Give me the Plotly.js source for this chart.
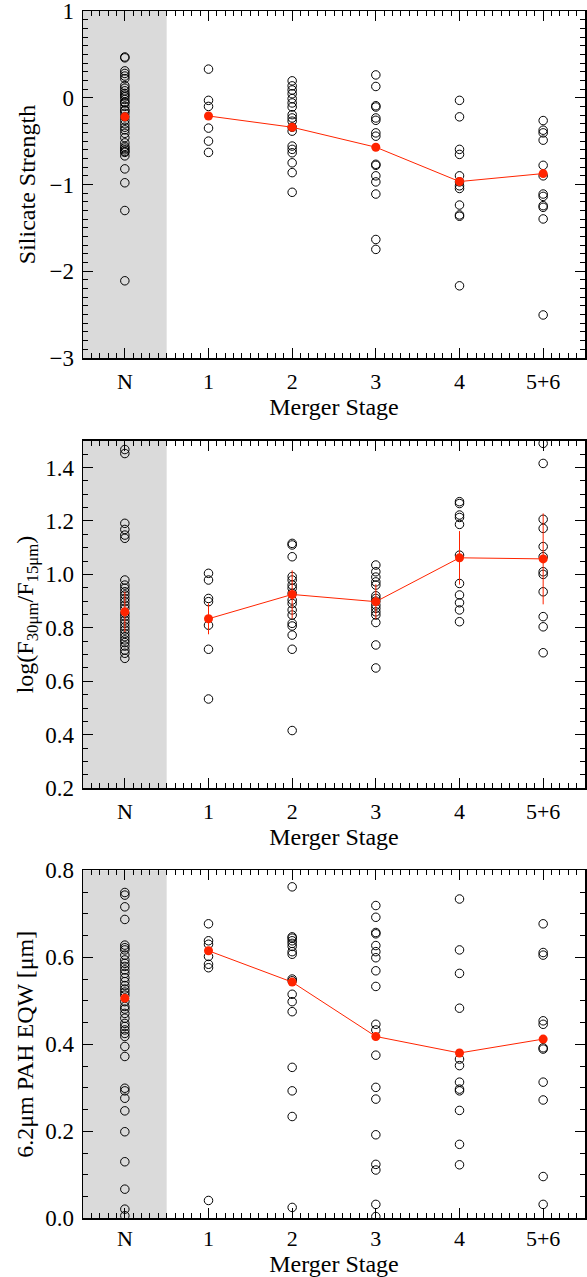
<!DOCTYPE html>
<html>
<head>
<meta charset="utf-8">
<script src="https://cdn.plot.ly/plotly-3.0.1.min.js"></script>
<style>html,body{margin:0;padding:0;background:#fff;}#chart{width:587px;height:1277px;}</style>
</head>
<body>
<div id="chart"></div>
<script>
// ---- categories ----
const stages = ['N', '1', '2', '3', '4', '5+6'];

// ---- Panel 1: Silicate Strength ----
const silN  = [0.47, 0.46, 0.31, 0.28, 0.25, 0.22, 0.14, 0.11, 0.08, 0.05, 0.03, 0.01, -0.02, -0.05, -0.06, -0.10, -0.14, -0.15, -0.18, -0.22, -0.26, -0.30, -0.34, -0.37, -0.41, -0.46, -0.52, -0.56, -0.58, -0.60, -0.62, -0.63, -0.67, -0.82, -0.98, -1.30, -2.11];
const sil1  = [0.33, -0.03, -0.10, -0.35, -0.50, -0.63];
const sil2  = [0.195, 0.137, 0.09, 0.046, -0.01, -0.06, -0.107, -0.195, -0.233, -0.27, -0.34, -0.385, -0.557, -0.595, -0.634, -0.75, -0.863, -1.09];
const sil3  = [0.263, 0.13, -0.092, -0.107, -0.233, -0.26, -0.405, -0.443, -0.767, -0.779, -0.90, -0.97, -1.11, -1.634, -1.748];
const sil4  = [-0.03, -0.22, -0.595, -0.653, -0.90, -0.97, -1.015, -1.046, -1.237, -1.351, -1.366, -2.168];
const sil56 = [-0.263, -0.374, -0.405, -0.489, -0.779, -0.90, -1.11, -1.137, -1.244, -1.263, -1.397, -2.504];
const silMean = [-0.22, -0.21, -0.34, -0.57, -0.966, -0.874];

// ---- Panel 2: log(F30/F15) ----
const rN  = [1.467, 1.452, 1.191, 1.168, 1.147, 1.135, 0.979, 0.96, 0.948, 0.935, 0.923, 0.91, 0.898, 0.885, 0.873, 0.854, 0.842, 0.829, 0.817, 0.804, 0.792, 0.779, 0.767, 0.755, 0.745, 0.732, 0.717, 0.705, 0.686];
const r1  = [1.004, 0.979, 0.91, 0.898, 0.81, 0.72, 0.534];
const r2  = [1.116, 1.110, 1.066, 0.992, 0.979, 0.960, 0.948, 0.929, 0.904, 0.891, 0.867, 0.848, 0.817, 0.807, 0.773, 0.720, 0.416];
const r3  = [1.035, 1.01, 0.99, 0.972, 0.96, 0.92, 0.91, 0.90, 0.885, 0.873, 0.86, 0.848, 0.82, 0.736, 0.65];
const r4  = [1.272, 1.265, 1.222, 1.213, 1.187, 1.072, 0.966, 0.923, 0.894, 0.867, 0.823];
const r56 = [1.49, 1.415, 1.206, 1.172, 1.104, 1.066, 1.01, 1.0, 0.935, 0.842, 0.804, 0.707];
const rMean = [0.86, 0.834, 0.925, 0.898, 1.062, 1.058];
const rErr  = [0.075, 0.058, 0.09, 0.065, 0.10, 0.17];

// ---- Panel 3: 6.2um PAH EQW ----
const pN  = [0.749, 0.743, 0.716, 0.687, 0.628, 0.622, 0.617, 0.605, 0.594, 0.586, 0.579, 0.571, 0.563, 0.553, 0.544, 0.535, 0.527, 0.52, 0.513, 0.498, 0.487, 0.481, 0.471, 0.46, 0.448, 0.441, 0.433, 0.425, 0.418, 0.395, 0.372, 0.299, 0.293, 0.276, 0.247, 0.199, 0.13, 0.067, 0.021, 0.006];
const p1  = [0.677, 0.638, 0.63, 0.602, 0.584, 0.576, 0.041];
const p2  = [0.762, 0.647, 0.644, 0.638, 0.632, 0.625, 0.613, 0.607, 0.55, 0.546, 0.515, 0.498, 0.475, 0.347, 0.293, 0.234, 0.025];
const p3  = [0.719, 0.692, 0.657, 0.654, 0.627, 0.613, 0.599, 0.569, 0.533, 0.446, 0.433, 0.375, 0.301, 0.274, 0.192, 0.124, 0.111, 0.032, 0.004];
const p4  = [0.734, 0.617, 0.563, 0.483, 0.366, 0.351, 0.313, 0.297, 0.293, 0.248, 0.17, 0.123];
const p56 = [0.677, 0.611, 0.605, 0.454, 0.446, 0.392, 0.389, 0.313, 0.272, 0.096, 0.032];
const pMean = [0.506, 0.615, 0.543, 0.418, 0.380, 0.412];

const xLabel = 'Merger Stage';
const yLabels = ['Silicate Strength', 'log(F<sub>30μm</sub>/F<sub>15μm</sub>)', '6.2μm PAH EQW [μm]'];

const RED = '#ff2400';
const FONT = 'Liberation Serif, Times New Roman, serif';
const idx = stages.map((s, i) => i);

function scatterTrace(groups, xa, ya) {
  const x = [], y = [];
  groups.forEach((g, i) => g.forEach(v => { x.push(idx[i]); y.push(v); }));
  return {x, y, xaxis: xa, yaxis: ya, type: 'scatter', mode: 'markers',
    marker: {symbol: 'circle-open', size: 8.5, color: '#000', line: {width: 1, color: '#000'}},
    hoverinfo: 'skip', showlegend: false};
}
// the non-merger (N) mean is drawn alone; merger stages 1..5+6 are joined by a line
function meanTraces(means, xa, ya, errs) {
  const base = {xaxis: xa, yaxis: ya, type: 'scatter', line: {color: RED, width: 1},
    marker: {color: RED, size: 9}, hoverinfo: 'skip', showlegend: false};
  const tN = Object.assign({}, base, {x: idx.slice(0, 1), y: means.slice(0, 1), mode: 'markers'});
  const tM = Object.assign({}, base, {x: idx.slice(1), y: means.slice(1), mode: 'lines+markers'});
  if (errs) {
    tN.error_y = {type: 'data', array: errs.slice(0, 1), visible: true, color: RED, thickness: 1, width: 0};
    tM.error_y = {type: 'data', array: errs.slice(1), visible: true, color: RED, thickness: 1, width: 0};
  }
  return [tN, tM];
}

const data = [
  scatterTrace([silN, sil1, sil2, sil3, sil4, sil56], 'x', 'y'),
  ...meanTraces(silMean, 'x', 'y'),
  scatterTrace([rN, r1, r2, r3, r4, r56], 'x2', 'y2'),
  ...meanTraces(rMean, 'x2', 'y2', rErr),
  scatterTrace([pN, p1, p2, p3, p4, p56], 'x3', 'y3'),
  ...meanTraces(pMean, 'x3', 'y3'),
];

const H = 1277;
function dom(top, bottom) { return [1 - bottom / H, 1 - top / H]; }

function xax(anchor, labelStandoff) {
  return {
    anchor: anchor, domain: [0, 1], range: [-0.5, 5.5],
    tickmode: 'array', tickvals: idx, ticktext: stages,
    ticks: 'inside', ticklen: 10, tickwidth: 1, tickcolor: '#000',
    minor: {dtick: 0.1, tick0: 0, ticks: 'inside', ticklen: 5, tickwidth: 1, tickcolor: '#000'},
    showline: true, linecolor: '#000', linewidth: 1.5, mirror: 'ticks',
    showgrid: false, zeroline: false,
    ticklabelstandoff: labelStandoff, ticklabeloverflow: 'allow',
    tickfont: {family: FONT, size: 22, color: '#000'},
    title: {text: xLabel, font: {family: FONT, size: 24, color: '#000'}, standoff: 0},
    fixedrange: true
  };
}
function yax(anchor, domain, range, tickvals, fmt, minorD, title, standoff) {
  return {
    anchor: anchor, domain: domain, range: range,
    tickmode: 'array', tickvals: tickvals, tickformat: fmt,
    ticks: 'inside', ticklen: 10, tickwidth: 1, tickcolor: '#000',
    minor: {dtick: minorD, tick0: 0, ticks: 'inside', ticklen: 5, tickwidth: 1, tickcolor: '#000'},
    showline: true, linecolor: '#000', linewidth: 1.5, mirror: 'ticks',
    showgrid: false, zeroline: false,
    ticklabelstandoff: 3, ticklabeloverflow: 'allow',
    tickfont: {family: FONT, size: 23, color: '#000'},
    title: {text: title, font: {family: FONT, size: 24, color: '#000'}, standoff: standoff},
    fixedrange: true
  };
}

const layout = {
  width: 587, height: 1277,
  margin: {l: 83, r: 2, t: 0, b: 0},
  paper_bgcolor: '#fff', plot_bgcolor: '#fff',
  font: {family: FONT, color: '#000'},
  showlegend: false,
  xaxis: xax('y', 3),
  xaxis2: xax('y2', 3),
  xaxis3: xax('y3', 0),
  yaxis: yax('x', dom(11, 358), [-3, 1], [-3, -2, -1, 0, 1], 'd', 0.1, yLabels[0], 7),
  yaxis2: yax('x2', dom(440.7, 788.3), [0.2, 1.5], [0.2, 0.4, 0.6, 0.8, 1.0, 1.2, 1.4], '.1f', 0.05, yLabels[1], 5),
  yaxis3: yax('x3', dom(870.3, 1218.3), [0, 0.8], [0, 0.2, 0.4, 0.6, 0.8], '.1f', 0.05, yLabels[2], 4),
  shapes: [['x', 'y'], ['x2', 'y2'], ['x3', 'y3']].map(([xa, ya]) => ({
    type: 'rect', xref: xa, yref: ya + ' domain', x0: -0.5, x1: 0.5, y0: 0, y1: 1,
    fillcolor: '#dadada', line: {width: 0}, layer: 'below'
  }))
};

Plotly.newPlot('chart', data, layout, {staticPlot: true, displayModeBar: false});
</script>
</body>
</html>
